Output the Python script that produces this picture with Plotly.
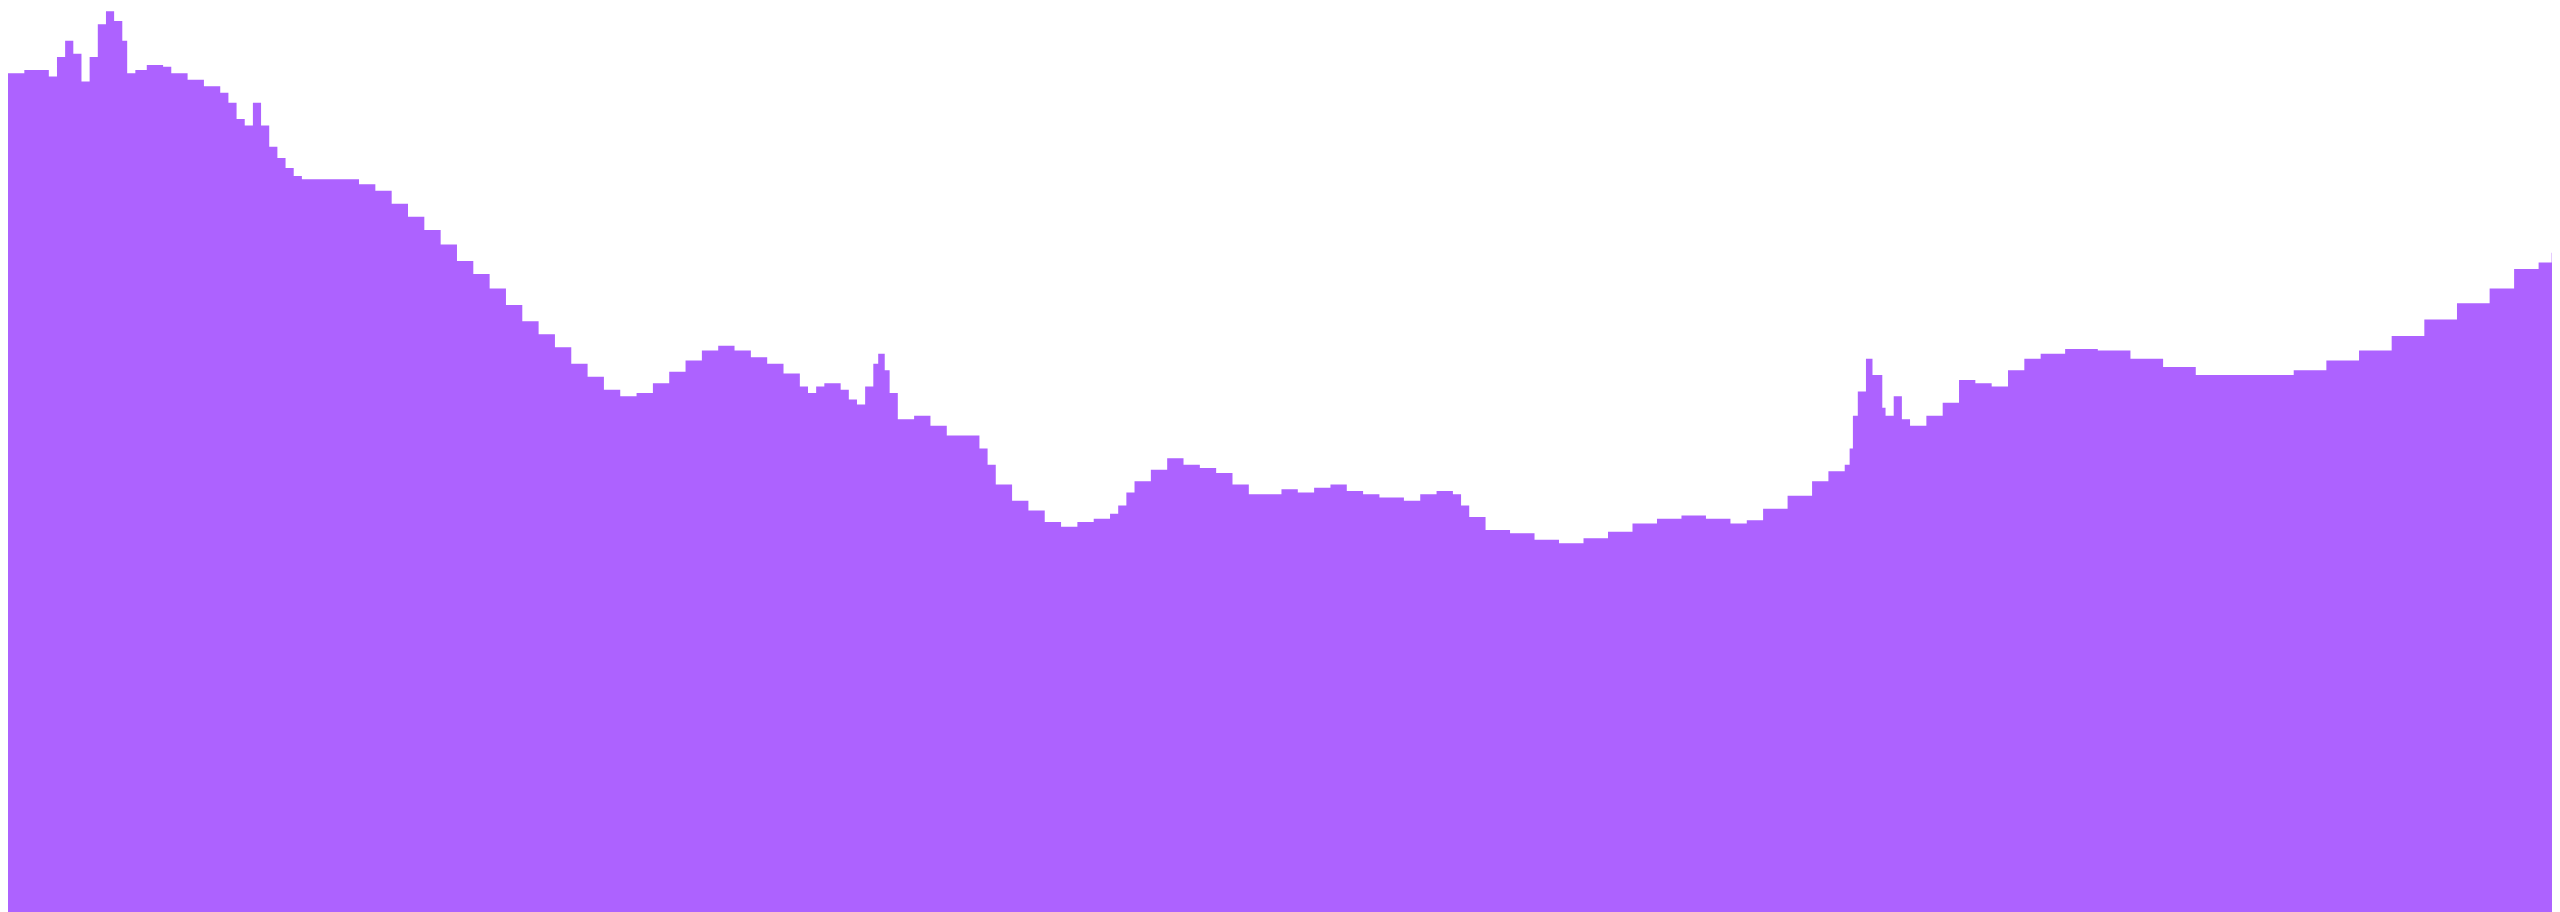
import plotly.graph_objects as go

pos = [0,10,25,30,35,40,45,50,55,60,65,70,73,78,85,95,100,110,120,130,135,140,145,150,155,160,165,170,175,180,210,215,225,235,245,255,265,275,285,295,305,315,325,335,345,355,365,375,385,395,405,415,425,435,445,455,465,475,485,490,495,500,510,515,520,525,530,533,537,540,545,555,565,575,585,595,600,605,615,625,635,645,655,665,675,680,685,690,700,710,720,730,740,750,760,770,780,790,800,810,820,830,840,855,865,875,885,890,895,905,920,935,950,965,980,995,1010,1025,1040,1055,1065,1075,1090,1105,1115,1125,1128,1130,1133,1138,1142,1148,1150,1155,1160,1165,1175,1185,1195,1205,1215,1225,1235,1245,1260,1280,1300,1320,1340,1360,1390,1400,1420,1440,1460,1480,1500,1520,1535,1550,1558,1565,1568]
top = [40,38,42,30,20,28,45,30,10,2,8,20,40,38,35,36,40,44,48,52,58,68,72,58,72,85,92,98,103,105,105,108,112,120,128,136,145,155,163,172,182,192,200,208,218,226,234,238,236,230,223,216,210,207,210,214,218,224,232,236,232,230,234,240,243,232,218,212,222,236,252,250,256,262,262,270,280,292,302,308,315,318,315,313,310,305,297,290,283,276,280,282,285,292,298,298,295,297,294,292,296,298,300,302,298,296,298,305,312,320,322,326,328,325,321,316,313,311,313,316,314,307,299,290,284,280,270,250,235,215,225,245,250,238,252,256,250,242,228,230,232,222,215,212,209,210,215,220,225,225,225,222,216,210,201,191,181,172,160,156,150,158,158]
H = 559
values = [H - t for t in top]

fig = go.Figure(go.Scatter(x=pos, y=values, mode="lines", line=dict(shape="hv", width=0, color="#AD62FF"),
                           fill="tozeroy", fillcolor="#AD62FF", hoverinfo="skip"))
fig.update_layout(width=2560, height=912, margin=dict(l=0, r=0, t=0, b=0),
                  paper_bgcolor="white", plot_bgcolor="white", showlegend=False,
                  xaxis=dict(visible=False, range=[0, 1568]),
                  yaxis=dict(visible=False, range=[0, H]))
fig.write_html("out.html")
